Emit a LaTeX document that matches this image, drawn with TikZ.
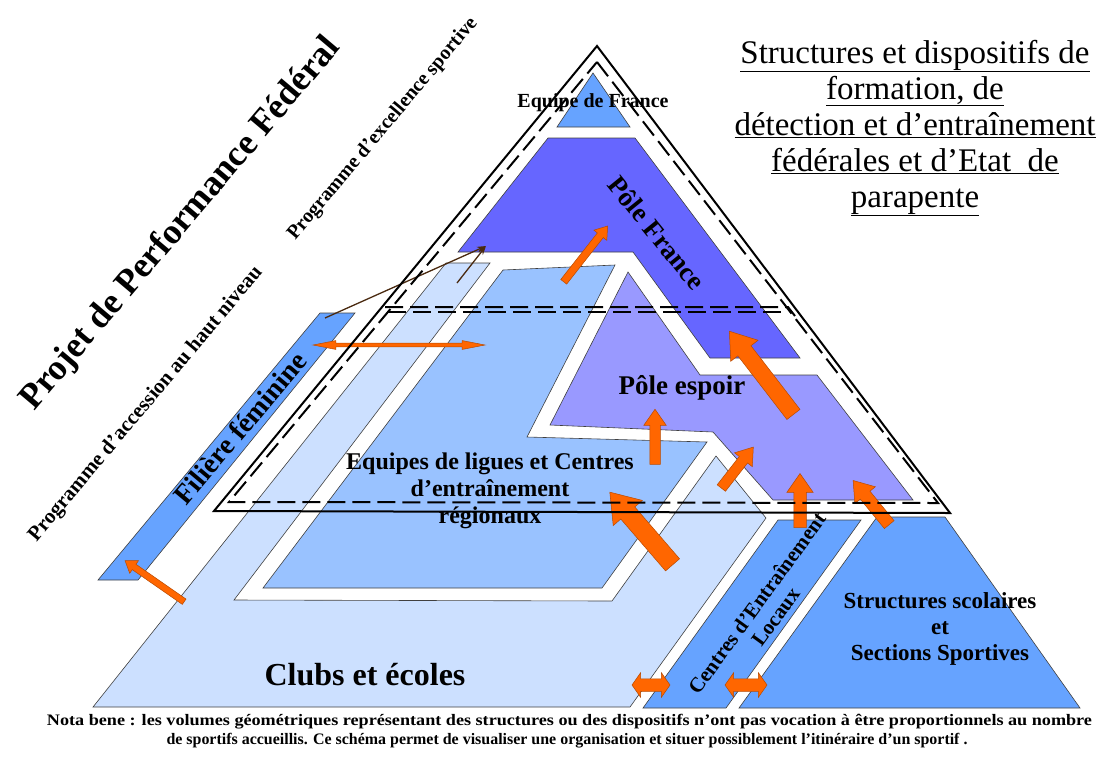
\documentclass[tikz,border=0pt]{standalone}
\usepackage{fontspec}
\usepackage{graphicx}
\setmainfont{Liberation Serif}
\usetikzlibrary{shapes.arrows,arrows.meta}
\definecolor{clubs}{HTML}{CCE0FF}
\definecolor{ligue}{HTML}{99C2FF}
\definecolor{midblue}{HTML}{66A3FF}
\definecolor{pfrance}{HTML}{6666FF}
\definecolor{pespoir}{HTML}{9999FF}
\definecolor{orng}{HTML}{FF6600}
\definecolor{orngdark}{HTML}{B84A00}
\definecolor{brownline}{HTML}{4A2A10}
\newcommand{\fsz}[2]{\fontsize{#1}{#2}\selectfont}
\tikzset{
  zone/.style={draw=black!75, line width=0.6pt, line join=miter},
  barrow/.style={single arrow, draw=orngdark, fill=orng, line width=0.5pt, inner xsep=0pt, single arrow tip angle=70, anchor=center},
  dbarrow/.style={double arrow, draw=orngdark, fill=orng, line width=0.5pt, inner xsep=0pt, double arrow tip angle=110, anchor=center},
  lbl/.style={align=center, inner sep=0pt},
  frame/.style={line width=2pt, line join=miter},
  dframe/.style={line width=2pt, dash pattern=on 18pt off 7pt},
  thinarrow/.style={draw=brownline, line width=1.3pt, -{Stealth[length=9pt,width=6pt,fill=orng]}},
}
\begin{document}
\begin{tikzpicture}[x=1pt,y=-1pt]
\useasboundingbox (0,0) rectangle (1107,756);

% zones
\fill[zone, fill=clubs] (93,707) -- (446,263) -- (490,263) -- (234,600) -- (612,601) -- (716,456) -- (766,518) -- (630,707) -- cycle;
\fill[zone, fill=ligue] (503,270) -- (615,265) -- (527,437) -- (707,442) -- (602,588) -- (263,588) -- cycle;
\fill[zone, fill=pespoir] (628,272) -- (700,375) -- (817,375) -- (913,500) -- (773,500) -- (713,432) -- (550,425) -- cycle;
\fill[zone, fill=pfrance] (548,138) -- (635,138) -- (800,358) -- (710,358) -- (633,252) -- (458,252) -- cycle;
\fill[zone, fill=midblue] (593,73) -- (630,127) -- (557,127) -- cycle;
\fill[zone, fill=midblue] (320,313) -- (355,313) -- (138,580) -- (98,580) -- cycle;
\fill[zone, fill=midblue] (778,520) -- (861,520) -- (726,708) -- (643,708) -- cycle;
\fill[zone, fill=midblue] (877,517) -- (945,517) -- (1080,708) -- (739,708) -- cycle;

% texts
\node[lbl, rotate=49.8, font=\fsz{36}{40}\bfseries] (ppf) at (181,224) {Projet de Performance Fédéral};
\node[lbl, rotate=50, font=\fsz{20}{24}\bfseries] (pexc) at (383,129) {Programme d’excellence sportive};
\node[lbl, rotate=50, font=\fsz{21}{24}\bfseries] (pacc) at (146,404) {Programme d’accession au haut niveau};
\node[lbl, rotate=50, font=\fsz{28}{32}\bfseries] (fil) at (240,428) {Filière féminine};
\node[lbl, font=\fsz{33}{36}] (title) at (915,128) {\underline{Structures et dispositifs de}\\ \underline{formation, de}\\ \underline{détection et d’entraînement}\\ \underline{fédérales et d’Etat\ \ de}\\ \underline{parapente}};
\node[lbl, font=\fsz{20}{24}\bfseries] (edf) at (593,103) {Equipe de France};
\node[lbl, rotate=-51, font=\fsz{27}{30}\bfseries] (pf) at (657,233) {Pôle France};
\node[lbl, font=\fsz{27}{30}\bfseries] (pe) at (682,388) {Pôle espoir};
\node[lbl, font=\fsz{24}{27}\bfseries] (eq) at (490,491) {Equipes de ligues et Centres\\ d’entraînement\\ régionaux};
\node[lbl, font=\fsz{32}{36}\bfseries] (clubs) at (365,675) {Clubs et écoles};
\node[lbl, font=\fsz{23}{26}\bfseries] (scol) at (940,629) {Structures scolaires\\ et\\ Sections Sportives};
\node[lbl, rotate=54, font=\fsz{21}{23}\bfseries] (cel) at (766,610) {Centres d’Entraînement\\ Locaux};
\node[lbl, font=\fsz{16}{19}\bfseries] (nb1) at (569.5,722) {\resizebox{1045pt}{\height}{Nota bene : les volumes géométriques représentant des structures ou des dispositifs n’ont pas vocation à être proportionnels au nombre}};
\node[lbl, font=\fsz{16}{19}\bfseries] (nb2) at (567,741) {\resizebox{801pt}{\height}{de sportifs accueillis. Ce schéma permet de visualiser une organisation et situer possiblement l’itinéraire d’un sportif .}};

% arrows
\node[barrow, minimum height=105pt, inner ysep=8pt, single arrow head extend=9pt, rotate=127.6] (arA) at (765,377.5) {};
\node[barrow, minimum height=55pt, inner ysep=5pt, single arrow head extend=6pt, rotate=90] (arB) at (655,440.5) {};
\node[barrow, minimum height=52pt, inner ysep=5pt, single arrow head extend=6pt, rotate=52] (arC) at (735,470.5) {};
\node[barrow, minimum height=96pt, inner ysep=9pt, single arrow head extend=10pt, rotate=130.8] (arD) at (645.5,533.5) {};
\node[barrow, minimum height=54pt, inner ysep=6pt, single arrow head extend=7pt, rotate=90] (arE) at (800,505) {};
\node[barrow, minimum height=57pt, inner ysep=6pt, single arrow head extend=7pt, rotate=129.3] (arF) at (874,506) {};
\node[barrow, minimum height=71pt, inner ysep=3.5pt, single arrow head extend=4.5pt, rotate=51.8] (arG) at (584,256) {};
\node[barrow, minimum height=72pt, inner ysep=3pt, single arrow head extend=4.5pt, rotate=145.2] (arH) at (156.5,582.5) {};
\node[dbarrow, minimum height=38pt, inner ysep=6pt, double arrow head extend=6pt] (dl) at (651,685) {};
\node[dbarrow, minimum height=42pt, inner ysep=6pt, double arrow head extend=6pt] (dr) at (746,685) {};
\node[dbarrow, minimum height=172pt, inner ysep=1.6pt, double arrow head extend=2.6pt, double arrow tip angle=22] (dh) at (399,345) {};

\coordinate (s1) at (325,318);
\coordinate (s2) at (457,283);
\coordinate (t1) at (486,246);
\draw[thinarrow] (s1) -- (t1);
\draw[thinarrow] (s2) -- (t1);

% frames
\draw[frame] (597,46) -- (950,513) -- (214,511) -- cycle;
\draw[dframe] (597,62) -- (938,503) -- (229,502) -- cycle;
\draw[dframe] (385,307) -- (788,307) -- (795,316);
\draw[dframe] (388,312) -- (785,312);
\end{tikzpicture}
\end{document}
